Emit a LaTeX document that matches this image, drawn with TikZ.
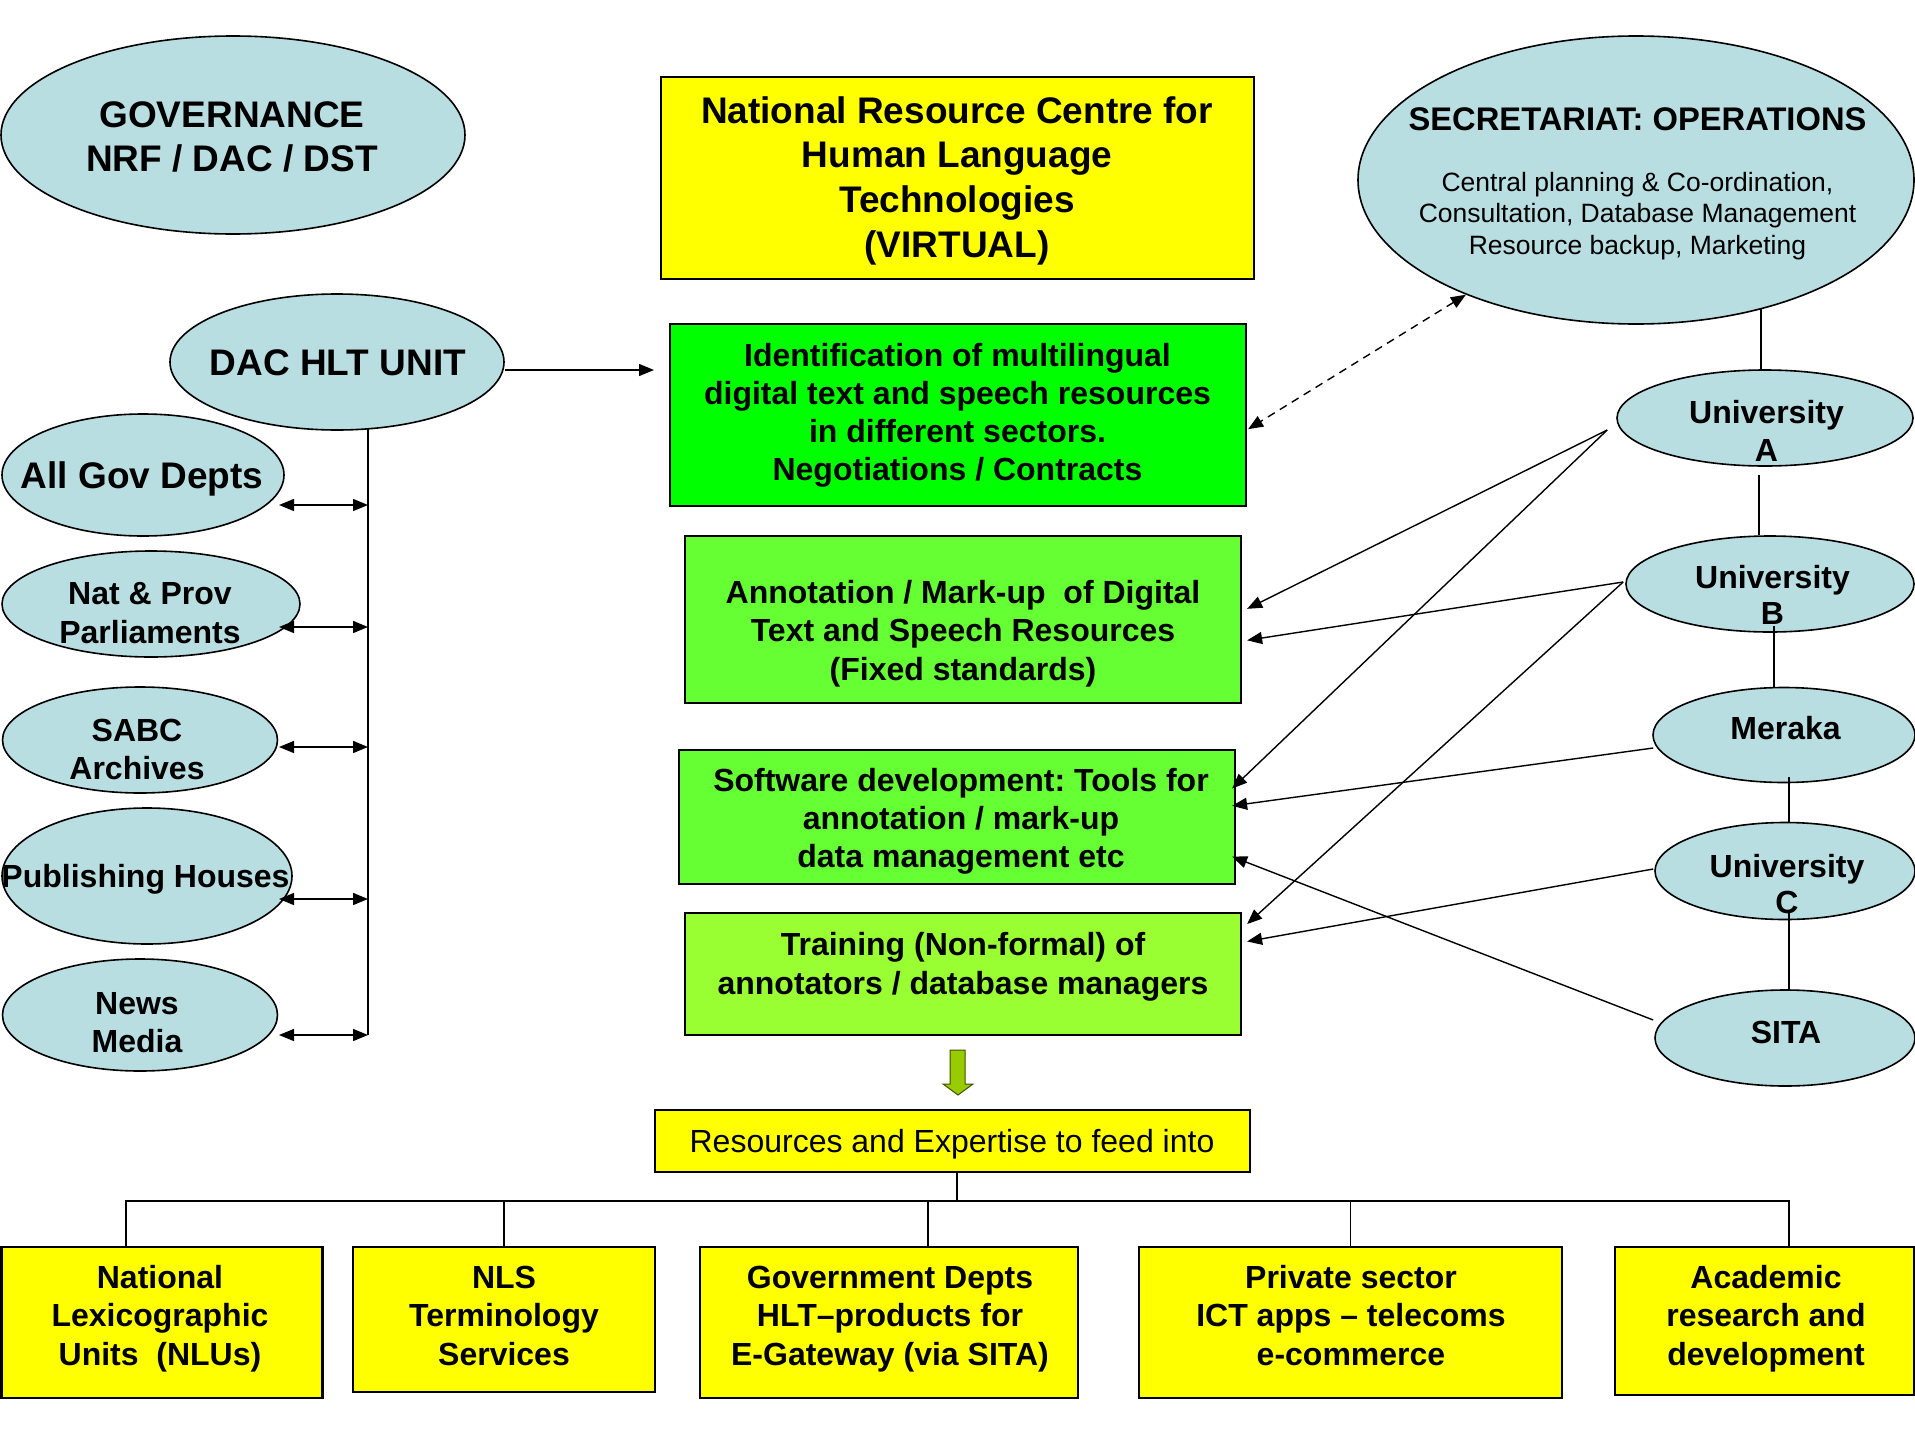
\documentclass[tikz,border=0pt]{standalone}
\usepackage{fontspec}
\setmainfont{Liberation Sans}
\usetikzlibrary{shapes.geometric,arrows.meta,calc}
\definecolor{ellblue}{RGB}{185,222,226}
\definecolor{yel}{RGB}{255,255,0}
\definecolor{grA}{RGB}{0,255,0}
\definecolor{grB}{RGB}{102,255,51}
\definecolor{grC}{RGB}{153,255,51}
\definecolor{arrgreen}{RGB}{153,204,0}
\tikzset{
 ell/.style={ellipse, draw, fill=ellblue, line width=1.6pt, inner sep=0pt},
 box/.style={rectangle, draw, line width=2.2pt, inner sep=0pt},
 txt/.style={align=center, inner sep=0pt},
 ln/.style={line width=1.4pt},
 arr/.style={ln, -{Triangle[length=15pt,width=12pt]}},
 dbl/.style={ln, {Triangle[length=15pt,width=12pt]}-{Triangle[length=15pt,width=12pt]}},
 dsh/.style={dbl, dash pattern=on 8pt off 6pt},
}
\frenchspacing
\begin{document}
\begin{tikzpicture}[x=1pt,y=-1pt]
\fill[white] (0,0) rectangle (1915,1435);
\useasboundingbox (0,0) rectangle (1915,1435);

% ---------- shapes ----------
\node[ell, minimum width=464pt, minimum height=198pt] (gov) at (233,135) {};
\node[box, fill=yel, minimum width=593pt, minimum height=202pt] (nrc) at (957.5,178) {};
\node[ell, minimum width=556pt, minimum height=288pt] (sec) at (1636,180) {};
\node[ell, minimum width=334pt, minimum height=136pt] (dac) at (337,362) {};
\node[box, fill=grA, minimum width=576pt, minimum height=182pt] (idf) at (958,415) {};
\node[box, fill=grB, minimum width=556pt, minimum height=167pt] (anno) at (963,619.5) {};
\node[box, fill=grB, minimum width=556pt, minimum height=134pt] (soft) at (957,817) {};
\node[box, fill=grC, minimum width=556pt, minimum height=122pt] (train) at (963,974) {};
\node[box, fill=yel, minimum width=595pt, minimum height=62pt] (res) at (952.5,1141) {};

\node[ell, minimum width=282pt, minimum height=122pt] (agd) at (143,475) {};
\node[ell, minimum width=298pt, minimum height=106pt] (parl) at (151,604) {};
\node[ell, minimum width=275pt, minimum height=106pt] (sabc) at (140,740) {};
\node[ell, minimum width=290pt, minimum height=136pt] (pub) at (147,876) {};
\node[ell, minimum width=275pt, minimum height=112pt] (news) at (140,1015) {};

\node[ell, minimum width=296pt, minimum height=96pt] (uA) at (1765,418) {};
\node[ell, minimum width=288pt, minimum height=96pt] (uB) at (1770,584) {};
\node[ell, minimum width=262pt, minimum height=95pt] (mer) at (1784,735) {};
\node[ell, minimum width=260pt, minimum height=97pt] (uC) at (1785,871) {};
\node[ell, minimum width=260pt, minimum height=96pt] (sita) at (1785,1038) {};

\node[box, fill=yel, minimum width=321pt, minimum height=151pt] (nlu) at (162,1322.5) {};
\node[box, fill=yel, minimum width=302pt, minimum height=145pt] (nls) at (504,1319.5) {};
\node[box, fill=yel, minimum width=378pt, minimum height=151pt] (gdp) at (889,1322.5) {};
\node[box, fill=yel, minimum width=423pt, minimum height=151pt] (priv) at (1350.5,1322.5) {};
\node[box, fill=yel, minimum width=299pt, minimum height=148pt] (acad) at (1764.5,1321) {};

% ---------- texts ----------
\node[txt, font=\fontsize{37}{44}\selectfont\bfseries] (govt) at (232,140.2) {\strut GOVERNANCE\\\strut NRF / DAC / DST};
\node[txt, font=\fontsize{37}{44.67}\selectfont\bfseries] (nrct) at (957,181.1) {\strut National Resource Centre for\\Human Language\\Technologies\\\strut (VIRTUAL)};
\node[txt, font=\fontsize{32.7}{38}\selectfont\bfseries] (sect) at (1637.5,122.4) {\strut SECRETARIAT: OPERATIONS};
\node[txt, font=\fontsize{26.5}{31.5}\selectfont] (secb) at (1637.5,216.2) {\strut Central planning \& Co-ordination,\\Consultation, Database Management\\\strut Resource backup, Marketing};
\node[txt, font=\fontsize{37}{42}\selectfont\bfseries] (dact) at (338,367.2) {\strut DAC HLT UNIT};
\node[txt, font=\fontsize{32}{38}\selectfont\bfseries] (idft) at (957.5,415.4) {\strut Identification of multilingual\\digital text and speech resources\\in different sectors.\\\strut Negotiations / Contracts};
\node[txt, font=\fontsize{32}{38.5}\selectfont\bfseries] (annot) at (963,633.8) {\strut Annotation / Mark-up\ \ of Digital\\Text and Speech Resources\\\strut (Fixed standards)};
\node[txt, font=\fontsize{32}{38}\selectfont\bfseries] (softt) at (961,821.4) {\strut Software development: Tools for\\annotation / mark-up\\\strut data management etc};
\node[txt, font=\fontsize{32}{39}\selectfont\bfseries] (traint) at (963,966.7) {\strut Training (Non-formal) of\\\strut annotators / database managers};
\node[txt, font=\fontsize{32}{38}\selectfont] (rest) at (952,1144.4) {\strut Resources and Expertise to feed into};

\node[txt, font=\fontsize{37}{43}\selectfont\bfseries] (agdt) at (142,479.4) {\strut All Gov Depts};
\node[txt, font=\fontsize{32}{39}\selectfont\bfseries] (parlt) at (150,615.7) {\strut Nat \& Prov\\\strut Parliaments};
\node[txt, font=\fontsize{32}{38.5}\selectfont\bfseries] (sabct) at (137,752.8) {\strut SABC\\\strut Archives};
\node[txt, font=\fontsize{32}{38.5}\selectfont\bfseries] (pubt) at (145.5,879.3) {\strut Publishing Houses};
\node[txt, font=\fontsize{32}{38}\selectfont\bfseries] (newst) at (137,1025.4) {\strut News\\\strut Media};

\node[txt, font=\fontsize{32}{38}\selectfont\bfseries] (uAt) at (1766.5,434.4) {\strut University\\\strut A};
\node[txt, font=\fontsize{32}{36}\selectfont\bfseries] (uBt) at (1772.5,598.8) {\strut University\\\strut B};
\node[txt, font=\fontsize{32}{37}\selectfont\bfseries] (mert) at (1785.5,731.6) {\strut Meraka};
\node[txt, font=\fontsize{32}{36}\selectfont\bfseries] (uCt) at (1787,887.8) {\strut University\\\strut C};
\node[txt, font=\fontsize{32}{37}\selectfont\bfseries] (sitat) at (1786,1035.6) {\strut SITA};

\node[txt, font=\fontsize{32}{38.5}\selectfont\bfseries] (nlut) at (160,1318.8) {\strut National\\Lexicographic\\\strut Units\ \ (NLUs)};
\node[txt, font=\fontsize{32}{38.5}\selectfont\bfseries] (nlst) at (504,1318.8) {\strut NLS\\Terminology\\\strut Services};
\node[txt, font=\fontsize{32}{38.5}\selectfont\bfseries] (gdpt) at (890,1318.8) {\strut Government Depts\\HLT–products for\\\strut E-Gateway (via SITA)};
\node[txt, font=\fontsize{32}{38.5}\selectfont\bfseries] (privt) at (1351,1318.8) {\strut Private sector\\ICT apps – telecoms\\\strut e-commerce};
\node[txt, font=\fontsize{32}{38.5}\selectfont\bfseries] (acadt) at (1766,1318.8) {\strut Academic\\research and\\\strut development};

% ---------- left connectors ----------
\coordinate (dT) at (654,370);
\draw[arr] (dac.east |- dT) -- (dT);
\coordinate (busT) at (368,429);
\coordinate (busB) at (368,1035);
\draw[ln] (busT) -- (busB);
\coordinate (b1) at (368,505);
\coordinate (b2) at (368,627);
\coordinate (b3) at (368,747);
\coordinate (b4) at (368,899);
\coordinate (b5) at (368,1035);
\draw[dbl] ($(b1)-(89,0)$) -- (b1);
\draw[dbl] ($(b2)-(89,0)$) -- (b2);
\draw[dbl] ($(b3)-(89,0)$) -- (b3);
\draw[dbl] ($(b4)-(89,0)$) -- (b4);
\draw[dbl] ($(b5)-(89,0)$) -- (b5);

% ---------- right connectors ----------
\draw[dsh] (sec.214.8) -- ($(idf.north east)!0.577!(idf.south east)+(1,0)$);
\draw[ln] (sec.-46.4) -- (sec.-46.4 |- uA.north);
\coordinate (k1) at (1759,475);
\draw[ln] (k1) -- (k1 |- uB.north);
\coordinate (k2) at (1774,626);
\draw[ln] (k2) -- (k2 |- mer.north);
\coordinate (k3) at (1789,777);
\draw[ln] (k3) -- (k3 |- uC.north);
\coordinate (k4) at (1789,913);
\draw[ln] (k4) -- (k4 |- sita.north);

\coordinate (sA) at ($(uA.west)+(-9,12)$);
\coordinate (sB) at ($(uB.west)+(-2,-2)$);
\coordinate (sM) at ($(mer.west)+(1,13)$);
\coordinate (sC) at ($(uC.west)+(-1,-2)$);
\coordinate (sS) at ($(sita.west)+(-1,-18)$);
\draw[arr] (sA) -- ($(anno.north east)!0.437!(anno.south east)+(5,0)$);
\draw[arr] (sA) -- ($(soft.north east)!0.291!(soft.south east)+(-4,0)$);
\draw[arr] (sB) -- ($(anno.north east)!0.623!(anno.south east)+(5,0)$);
\draw[arr] (sB) -- ($(train.north east)!0.098!(train.south east)+(5,0)$);
\draw[arr] (sM) -- ($(soft.north east)!0.418!(soft.south east)+(-4,0)$);
\draw[arr] (sC) -- ($(train.north east)!0.238!(train.south east)+(5,0)$);
\draw[arr] (sS) -- ($(soft.north east)!0.791!(soft.south east)+(-4,0)$);

% ---------- block arrow ----------
\draw[fill=arrgreen, draw=black!60!arrgreen, line width=1pt] (950,1050) -- (965,1050) -- (965,1084) -- (973,1084) -- (958,1095) -- (943,1084) -- (950,1084) -- cycle;

% ---------- tree ----------
\coordinate (tj) at (957,1202);
\draw[ln] (res.south -| tj) -- (tj);
\draw[ln] ($(nlu.north)+(-36,0)$) |- ($(acad.north)+(24.5,-45)$) -- ($(acad.north)+(24.5,0)$);
\draw[ln] (nls.north) -- (nls.north |- tj);
\draw[ln] ($(gdp.north)+(39,0)$) -- ($(gdp.north)+(39,-45)$);
\draw[ln] (priv.north) -- (priv.north |- tj);
\end{tikzpicture}
\end{document}
